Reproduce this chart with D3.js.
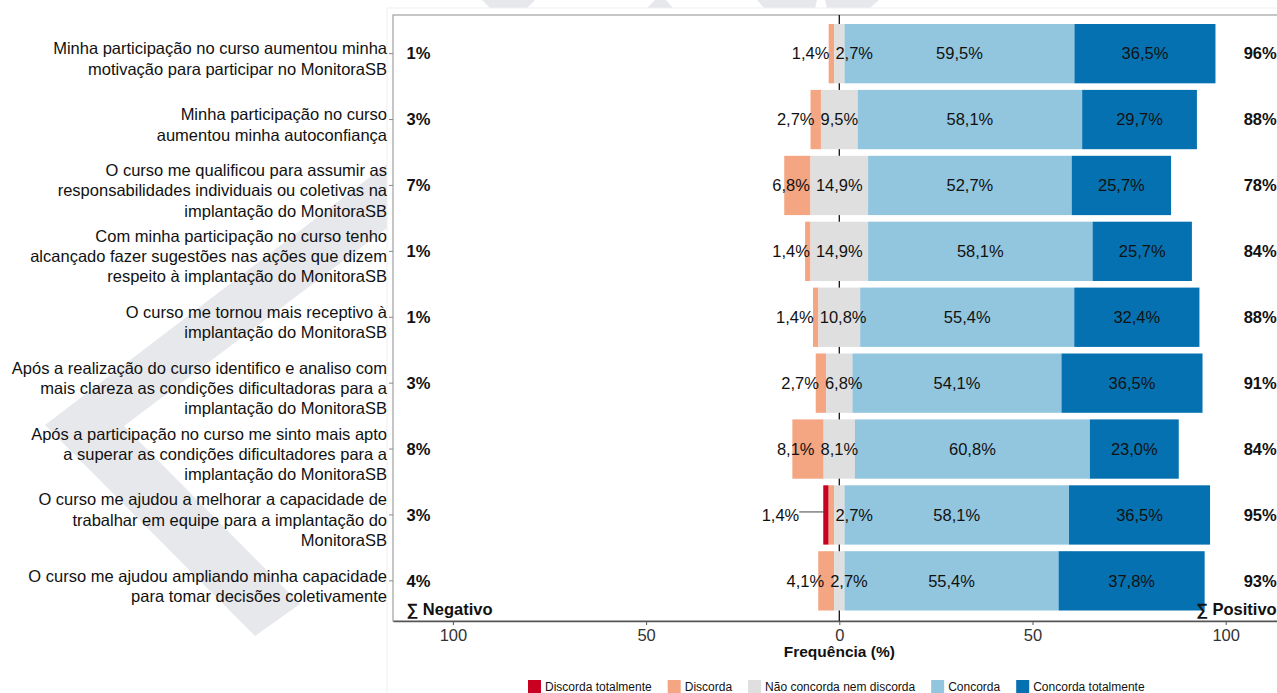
<!DOCTYPE html>
<html>
<head>
<meta charset="utf-8">
<script src="https://cdn.jsdelivr.net/npm/d3@7/dist/d3.min.js"></script>
<style>
  body { margin: 0; background: #fff; }
  svg text { font-family: "Liberation Sans", Arial, sans-serif; }
</style>
</head>
<body>
<svg id="chart" width="1277" height="693"></svg>
<script>
// question labels, one array of lines per row (top to bottom)
var questions = [
  ['Minha participação no curso aumentou minha', 'motivação para participar no MonitoraSB'],
  ['Minha participação no curso', 'aumentou minha autoconfiança'],
  ['O curso me qualificou para assumir as', 'responsabilidades individuais ou coletivas na', 'implantação do MonitoraSB'],
  ['Com minha participação no curso tenho', 'alcançado fazer sugestões nas ações que dizem', 'respeito à implantação do MonitoraSB'],
  ['O curso me tornou mais receptivo à', 'implantação do MonitoraSB'],
  ['Após a realização do curso identifico e analiso com', 'mais clareza as condições dificultadoras para a', 'implantação do MonitoraSB'],
  ['Após a participação no curso me sinto mais apto', 'a superar as condições dificultadores para a', 'implantação do MonitoraSB'],
  ['O curso me ajudou a melhorar a capacidade de', 'trabalhar em equipe para a implantação do', 'MonitoraSB'],
  ['O curso me ajudou ampliando minha capacidade', 'para tomar decisões coletivamente']
];

var levels = ['Discorda totalmente', 'Discorda', 'Não concorda nem discorda', 'Concorda', 'Concorda totalmente'];
var colors = ['#CA0020', '#F4A582', '#DFDFDF', '#92C5DE', '#0571B0'];

// frequencies (%)
var discordaTotalmente = [0, 0, 0, 0, 0, 0, 0, 1.4, 0];
var discorda           = [1.4, 2.7, 6.8, 1.4, 1.4, 2.7, 8.1, 1.4, 4.1];
var neutro             = [2.7, 9.5, 14.9, 14.9, 10.8, 6.8, 8.1, 2.7, 2.7];
var concorda           = [59.5, 58.1, 52.7, 58.1, 55.4, 54.1, 60.8, 58.1, 55.4];
var concordaTotalmente = [36.5, 29.7, 25.7, 25.7, 32.4, 36.5, 23.0, 36.5, 37.8];

var xTicks = [-100, -50, 0, 50, 100];

var svg = d3.select('#chart');

// watermark behind the plot
var wm = svg.append('g').attr('fill', '#e7e8ec');
var wmShapes = [
  [[395, 158], [45, 425], [255, 636], [300, 604], [124, 426], [395, 222]],
  [[482, 0], [535, 0], [527, 8], [490, 8]],
  [[655, 0], [666, 0], [673, 8], [647, 8]],
  [[757, 0], [817, 0], [815, 8], [764, 8]],
  [[825, 0], [879, 0], [870, 8], [827, 8]]
];
wmShapes.forEach(function (p) {
  wm.append('polygon').attr('points', p.map(function (q) { return q.join(','); }).join(' '));
});

// plot background
svg.append('rect').attr('x', 387).attr('y', 8).attr('width', 900).attr('height', 700)
  .attr('fill', '#fff').attr('stroke', '#f0f0f0');

var x = d3.scaleLinear().domain([-115.5, 115.5]).range([393, 1285.6]);
var y = d3.scaleBand().domain(d3.range(questions.length)).range([20.7, 613.8])
  .paddingInner(0.1).paddingOuter(0.05);

var panelTop = 15, panelBottom = 621;

svg.append('rect')
  .attr('x', x(-115.5)).attr('y', panelTop)
  .attr('width', x(115.5) - x(-115.5)).attr('height', panelBottom - panelTop)
  .attr('fill', '#fff').attr('stroke', '#a8a8a8').attr('stroke-width', 1.3);

// zero line
svg.append('line')
  .attr('x1', x(0)).attr('x2', x(0)).attr('y1', panelTop).attr('y2', panelBottom)
  .attr('stroke', '#111').attr('stroke-width', 1.3);

// build segments
var rows = questions.map(function (q, i) {
  var n0 = -neutro[i] / 2, n1 = neutro[i] / 2;
  var segs = [
    { k: 0, v: discordaTotalmente[i], a: n0 - discorda[i] - discordaTotalmente[i], b: n0 - discorda[i] },
    { k: 1, v: discorda[i], a: n0 - discorda[i], b: n0 },
    { k: 2, v: neutro[i], a: n0, b: n1 },
    { k: 3, v: concorda[i], a: n1, b: n1 + concorda[i] },
    { k: 4, v: concordaTotalmente[i], a: n1 + concorda[i], b: n1 + concorda[i] + concordaTotalmente[i] }
  ];
  return { i: i, segs: segs.filter(function (s) { return s.v > 0; }) };
});

var bars = svg.append('g');
rows.forEach(function (r) {
  bars.selectAll(null).data(r.segs).enter().append('rect')
    .attr('x', function (s) { return x(s.a); })
    .attr('width', function (s) { return x(s.b) - x(s.a); })
    .attr('y', y(r.i))
    .attr('height', y.bandwidth())
    .attr('fill', function (s) { return colors[s.k]; });
});

function fmt(v) { return v.toFixed(1).replace('.', ',') + '%'; }

// value labels with a small repel on the negative side
var labels = svg.append('g').attr('font-size', '16.5px').attr('fill', '#111');
rows.forEach(function (r) {
  var cy = y(r.i) + y.bandwidth() / 2;
  var segs = r.segs;
  var hasDT = segs.some(function (s) { return s.k === 0; });
  var placed = {};
  segs.forEach(function (s) {
    if (s.k === 1 && hasDT) return; // hidden by overlap
    var t = labels.append('text').attr('y', cy).attr('dy', '0.35em')
      .attr('text-anchor', 'middle').text(fmt(s.v));
    placed[s.k] = { t: t, w: t.node().getComputedTextLength(), c: x((s.a + s.b) / 2), s: s };
  });
  var negAnchors = segs.filter(function (s) { return s.k < 2; })
    .map(function (s) { return x((s.a + s.b) / 2); });
  var N = placed[2];
  if (N && negAnchors.length) {
    N.c = Math.max(N.c, d3.max(negAnchors) + 4 + N.w / 2);
  }
  var nLeft = N ? N.c - N.w / 2 : x(0);
  if (placed[1]) {
    placed[1].c = Math.min(placed[1].c, nLeft - 6 - placed[1].w / 2);
  }
  if (placed[0]) {
    var D = placed[0];
    var edge = x(D.s.a);
    D.c = edge - 24 - D.w / 2;
    labels.append('line').attr('x1', D.c + D.w / 2).attr('x2', x((D.s.a + D.s.b) / 2))
      .attr('y1', cy - 3).attr('y2', cy - 3).attr('stroke', '#444').attr('stroke-width', 1);
  }
  Object.keys(placed).forEach(function (k) { placed[k].t.attr('x', placed[k].c); });
});

// sums
var sums = svg.append('g').attr('font-size', '16.5px').attr('font-weight', 'bold').attr('fill', '#111');
rows.forEach(function (r) {
  var i = r.i;
  var cy = y(i) + y.bandwidth() / 2;
  var neg = discorda[i] + discordaTotalmente[i];
  var pos = concorda[i] + concordaTotalmente[i];
  sums.append('text').attr('x', x(-112)).attr('y', cy).attr('dy', '0.35em')
    .text(Math.round(neg) + '%');
  sums.append('text').attr('x', x(113.2)).attr('y', cy).attr('dy', '0.35em')
    .attr('text-anchor', 'end').text(Math.round(pos) + '%');
});
sums.append('text').attr('x', x(-112)).attr('y', 609).attr('dy', '0.35em').text('∑ Negativo');
sums.append('text').attr('x', x(113.2)).attr('y', 609).attr('dy', '0.35em')
  .attr('text-anchor', 'end').text('∑ Positivo');

// y axis ticks + wrapped labels
var yAxis = svg.append('g').attr('transform', 'translate(' + x(-115.5) + ',0)')
  .call(d3.axisLeft(y).tickSize(4).tickFormat(''));
yAxis.select('.domain').remove();
yAxis.selectAll('line').attr('stroke', '#888');

var ylab = svg.append('g').attr('font-size', '16.5px').attr('fill', '#111').attr('text-anchor', 'end');
questions.forEach(function (lines, i) {
  var cy = y(i) + y.bandwidth() / 2 + 5;
  var t = ylab.append('text');
  lines.forEach(function (ln, j) {
    t.append('tspan').attr('x', 387)
      .attr('y', cy + 5.8 + (j - (lines.length - 1) / 2) * 20.3)
      .text(ln);
  });
});

// x axis
var xAxis = svg.append('g').attr('transform', 'translate(0,' + panelBottom + ')')
  .call(d3.axisBottom(x).tickValues(xTicks).tickSize(4).tickSizeOuter(0).tickPadding(4)
    .tickFormat(function (d) { return Math.abs(d); }));
xAxis.select('.domain').attr('stroke', '#555').attr('stroke-width', 1.3);
xAxis.selectAll('line').attr('stroke', '#555');
xAxis.selectAll('text').attr('font-size', '16.5px').attr('fill', '#333')
  .attr('font-family', '"Liberation Sans", Arial, sans-serif');

svg.append('text').attr('x', x(0)).attr('y', 652).attr('dy', '0.35em')
  .attr('text-anchor', 'middle').attr('font-size', '15.5px').attr('font-weight', 'bold')
  .attr('fill', '#111').text('Frequência (%)');

// legend
var leg = svg.append('g').attr('font-size', '12px').attr('fill', '#111');
var lx = 528;
levels.forEach(function (name, k) {
  leg.append('rect').attr('x', lx).attr('y', 680).attr('width', 13).attr('height', 14)
    .attr('fill', colors[k]);
  var t = leg.append('text').attr('x', lx + 17).attr('y', 687).attr('dy', '0.35em').text(name);
  lx += 17 + t.node().getComputedTextLength() + 16;
});
</script>
</body>
</html>
